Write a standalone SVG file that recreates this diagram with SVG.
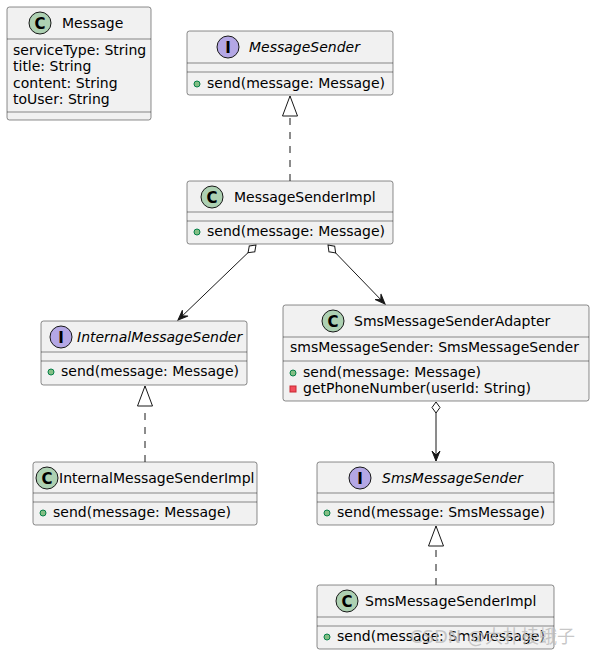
<svg xmlns="http://www.w3.org/2000/svg" width="595" height="655" viewBox="0 0 595 655">
<defs>
<style>
.box{fill:#F1F1F1;stroke:#181818;stroke-width:0.5}
.sep{stroke:#181818;stroke-width:0.5}
.t{font-family:"DejaVu Sans","Noto Sans",sans-serif;font-size:14px;fill:#000}
.ti{font-family:"DejaVu Sans","Noto Sans",sans-serif;font-size:14px;fill:#000;font-style:italic}
.cc{fill:#ADD1B2;stroke:#181818;stroke-width:1}
.ic{fill:#B4A7E5;stroke:#181818;stroke-width:1}
.ch{font-family:"DejaVu Sans","Liberation Sans",sans-serif;font-size:15px;font-weight:bold;fill:#000;text-anchor:middle}
.pub{fill:#84BE84;stroke:#038048;stroke-width:1}
.priv{fill:#F24D5C;stroke:#C82930;stroke-width:1}
.line{fill:none;stroke:#181818;stroke-width:1}
.dash{stroke-dasharray:7,7}
.wm{font-family:"DejaVu Sans","Noto Sans CJK SC",sans-serif;font-size:18px;fill:#BDBDBD;fill-opacity:0.85}
</style>
<marker id="tri" markerUnits="userSpaceOnUse" orient="auto" refX="0" refY="0" markerWidth="22" markerHeight="18" viewBox="-21 -9 22 18" overflow="visible">
<polygon points="0,0 -20,-7.5 -20,7.5" fill="#FFFFFF" stroke="#181818" stroke-width="1"/>
</marker>
<marker id="arr" markerUnits="userSpaceOnUse" orient="auto" refX="0" refY="0" markerWidth="12" markerHeight="10" viewBox="-11 -5 12 10" overflow="visible">
<polygon points="0,0 -10,-4 -6,0 -10,4" fill="#181818" stroke="#181818" stroke-width="1"/>
</marker>
<marker id="dia" markerUnits="userSpaceOnUse" orient="auto" refX="0" refY="0" markerWidth="14" markerHeight="10" viewBox="-1 -5 14 10" overflow="visible">
<polygon points="0,0 5.5,-4 11,0 5.5,4" fill="#FFFFFF" stroke="#181818" stroke-width="1"/>
</marker>
</defs>
<rect width="595" height="655" fill="#FFFFFF"/>

<g id="Message">
<rect class="box" x="7" y="7" width="144" height="113" rx="2.5"/>
<circle class="cc" cx="40" cy="23" r="11"/>
<text class="ch" x="40" y="28.5">C</text>
<text class="t" x="62" y="28">Message</text>
<line class="sep" x1="7" y1="39" x2="151" y2="39"/>
<text class="t" x="13" y="55">serviceType: String</text>
<text class="t" x="13" y="71">title: String</text>
<text class="t" x="13" y="88">content: String</text>
<text class="t" x="13" y="104">toUser: String</text>
<line class="sep" x1="7" y1="112" x2="151" y2="112"/>
</g>

<g id="MessageSender">
<rect class="box" x="187" y="31" width="206" height="64" rx="2.5"/>
<circle class="ic" cx="228" cy="47" r="11"/>
<text class="ch" x="228" y="52.5">I</text>
<text class="ti" x="249" y="52">MessageSender</text>
<line class="sep" x1="187" y1="63" x2="393" y2="63"/>
<line class="sep" x1="187" y1="72" x2="393" y2="72"/>
<circle class="pub" cx="197" cy="84" r="3"/>
<text class="t" x="207" y="88">send(message: Message)</text>
</g>

<g id="MessageSenderImpl">
<rect class="box" x="187" y="181" width="206" height="63" rx="2.5"/>
<circle class="cc" cx="212" cy="197" r="11"/>
<text class="ch" x="212" y="202.5">C</text>
<text class="t" x="234" y="202">MessageSenderImpl</text>
<line class="sep" x1="187" y1="212" x2="393" y2="212"/>
<line class="sep" x1="187" y1="221" x2="393" y2="221"/>
<circle class="pub" cx="197" cy="232" r="3"/>
<text class="t" x="207" y="236">send(message: Message)</text>
</g>

<g id="InternalMessageSender">
<rect class="box" x="41" y="321" width="206" height="64" rx="2.5"/>
<circle class="ic" cx="61" cy="337" r="11"/>
<text class="ch" x="61" y="342.5">I</text>
<text class="ti" x="77" y="342">InternalMessageSender</text>
<line class="sep" x1="41" y1="352" x2="247" y2="352"/>
<line class="sep" x1="41" y1="361" x2="247" y2="361"/>
<circle class="pub" cx="51" cy="372" r="3"/>
<text class="t" x="61" y="376">send(message: Message)</text>
</g>

<g id="SmsMessageSenderAdapter">
<rect class="box" x="283" y="305" width="306" height="96" rx="2.5"/>
<circle class="cc" cx="333" cy="321" r="11"/>
<text class="ch" x="333" y="326.5">C</text>
<text class="t" x="354" y="326">SmsMessageSenderAdapter</text>
<line class="sep" x1="283" y1="337" x2="589" y2="337"/>
<text class="t" x="290" y="352">smsMessageSender: SmsMessageSender</text>
<line class="sep" x1="283" y1="361" x2="589" y2="361"/>
<circle class="pub" cx="293" cy="373" r="3"/>
<text class="t" x="303" y="377">send(message: Message)</text>
<rect class="priv" x="290" y="386" width="6" height="6"/>
<text class="t" x="303" y="393">getPhoneNumber(userId: String)</text>
</g>

<g id="InternalMessageSenderImpl">
<rect class="box" x="33" y="462" width="224" height="63" rx="2.5"/>
<circle class="cc" cx="47" cy="478" r="11"/>
<text class="ch" x="47" y="483.5">C</text>
<text class="t" x="59" y="483">InternalMessageSenderImpl</text>
<line class="sep" x1="33" y1="493" x2="257" y2="493"/>
<line class="sep" x1="33" y1="502" x2="257" y2="502"/>
<circle class="pub" cx="43" cy="513" r="3"/>
<text class="t" x="53" y="517">send(message: Message)</text>
</g>

<g id="SmsMessageSender">
<rect class="box" x="317" y="462" width="237" height="63" rx="2.5"/>
<circle class="ic" cx="360" cy="478" r="11"/>
<text class="ch" x="360" y="483.5">I</text>
<text class="ti" x="382" y="483">SmsMessageSender</text>
<line class="sep" x1="317" y1="493" x2="554" y2="493"/>
<line class="sep" x1="317" y1="502" x2="554" y2="502"/>
<circle class="pub" cx="327" cy="513" r="3"/>
<text class="t" x="337" y="517">send(message: SmsMessage)</text>
</g>

<g id="SmsMessageSenderImpl">
<rect class="box" x="317" y="585" width="237" height="64" rx="2.5"/>
<circle class="cc" cx="347" cy="601" r="11"/>
<text class="ch" x="347" y="606.5">C</text>
<text class="t" x="365" y="606">SmsMessageSenderImpl</text>
<line class="sep" x1="317" y1="617" x2="554" y2="617"/>
<line class="sep" x1="317" y1="626" x2="554" y2="626"/>
<circle class="pub" cx="327" cy="637" r="3"/>
<text class="t" x="337" y="641">send(message: SmsMessage)</text>
</g>

<g id="connectors">
<path class="line dash" d="M290,181 L290,96" marker-end="url(#tri)"/>
<path class="line dash" d="M145,462 L145,386" marker-end="url(#tri)"/>
<path class="line dash" d="M436,585 L436,526" marker-end="url(#tri)"/>
<path class="line" d="M256,245 L178,320" marker-start="url(#dia)" marker-end="url(#arr)"/>
<path class="line" d="M328,245 L385,304" marker-start="url(#dia)" marker-end="url(#arr)"/>
<path class="line" d="M436,402 L436,461" marker-start="url(#dia)" marker-end="url(#arr)"/>
</g>

<text class="wm" x="410" y="643">CSDN @大扑棱蛾子</text>
</svg>
